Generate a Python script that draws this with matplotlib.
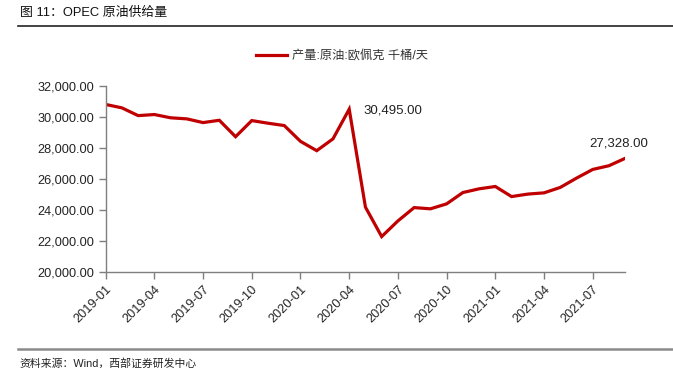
import matplotlib.pyplot as plt
from matplotlib.lines import Line2D
from matplotlib.ticker import FuncFormatter

plt.rcParams['font.family'] = ['Liberation Sans', 'Noto Sans CJK SC', 'DejaVu Sans']

# 月度数据 2019-01 ~ 2021-09
months = [f'{y}-{m:02d}' for y in (2019, 2020, 2021) for m in range(1, 13)][:33]
supply = [30800, 30580, 30080, 30150, 29940, 29870, 29630, 29780, 28720, 29760,
          29590, 29440, 28420, 27820, 28580, 30495, 24180, 22280, 23290, 24150,
          24070, 24390, 25120, 25360, 25510, 24860, 25020, 25100, 25450, 26050,
          26610, 26850, 27328]
series_name = '产量:原油:欧佩克 千桶/天'
title = '图 11：OPEC 原油供给量'
source = '资料来源：Wind，西部证券研发中心'
red = '#C00000'

fig = plt.figure(figsize=(6.73, 3.70), dpi=100)
ax = fig.add_axes([0.157, 0.265, 0.772, 0.503])

x = list(range(len(months)))
ax.plot(x, supply, color=red, lw=2.3, solid_joinstyle='miter')

ax.set_xlim(0, len(months) - 1)
ax.set_ylim(20000, 32000)
ax.set_yticks(range(20000, 32001, 2000))
ax.yaxis.set_major_formatter(FuncFormatter(lambda v, p: f'{v:,.2f}'))
tick_idx = list(range(0, len(months), 3))
ax.set_xticks(tick_idx)
ax.set_xticklabels([months[i] for i in tick_idx], rotation=45, ha='right',
                   rotation_mode='anchor')

for s in ('top', 'right'):
    ax.spines[s].set_visible(False)
for s in ('left', 'bottom'):
    ax.spines[s].set_color('#7f7f7f')
    ax.spines[s].set_linewidth(1.0)
ax.tick_params(axis='both', colors='#7f7f7f', labelcolor='#222222',
               labelsize=9.2, length=5, width=1.0, direction='out')
ax.tick_params(axis='x', pad=3)

# 数据标签
i_peak = 15
ax.annotate(f'{supply[i_peak]:,.2f}', (x[i_peak], supply[i_peak]),
            xytext=(10, -1), textcoords='offset points', va='center', ha='left',
            fontsize=9.5, color='#222222')
ax.annotate(f'{supply[-1]:,.2f}', (x[-1], supply[-1]),
            xytext=(-5, 11), textcoords='offset points', va='center', ha='center',
            fontsize=9.5, color='#222222')

handle = Line2D([0], [0], color=red, lw=2.3)
fig.legend([handle], [series_name], loc='center', bbox_to_anchor=(342 / 673, 1 - 56 / 370),
           frameon=False, fontsize=8.8, handlelength=2.6, handletextpad=0.4,
           labelcolor='#333333')

fig.text(20 / 673, 1 - 13 / 370, title, fontsize=9.3, va='center', ha='left', color='#111111')
fig.add_artist(Line2D([18 / 673, 1], [1 - 26 / 370] * 2, color='#222222', lw=1.2))
fig.add_artist(Line2D([18 / 673, 1], [1 - 349 / 370] * 2, color='#8a8a8a', lw=1.8))
fig.text(19 / 673, 1 - 363 / 370, source, fontsize=7.8, va='center', ha='left', color='#222222')

fig.savefig('out.png', dpi=100)
